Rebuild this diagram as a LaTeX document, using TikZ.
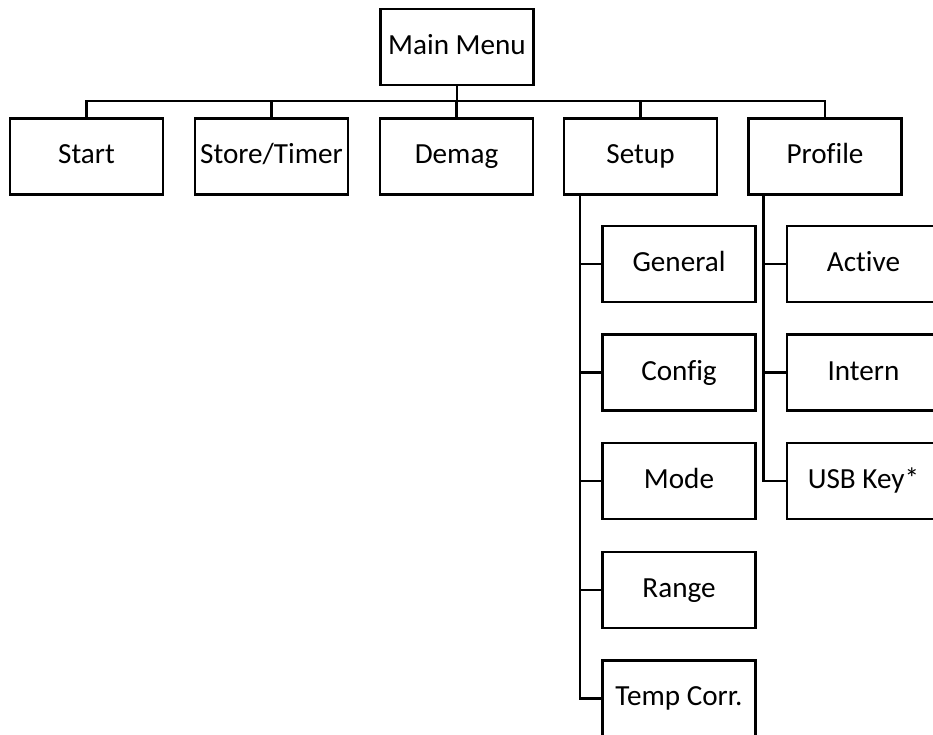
\documentclass[tikz,border=0pt]{standalone}
\usepackage{fontspec}
\setmainfont{Carlito}[Ligatures=NoCommon]
\begin{document}
\begin{tikzpicture}[x=0.02cm,y=-0.02cm,
  menu/.style={draw,line width=1.4pt,minimum width=3.06cm,minimum height=1.52cm,
    inner sep=0pt,text height=12pt,text depth=3.5pt,font=\fontsize{16.6}{20}\selectfont},
  link/.style={line width=1.4pt}]
\useasboundingbox (0,0) rectangle (933,734);
\clip (0,0) rectangle (933,734);
\def\dy{108.6} % distance between sub menus
% top level
\node[menu] (main) at (457,47) {Main Menu};
\node[menu] (start) at (86.5,156.5) {Start};
\node[menu] (store) at (271.5,156.5) {Store/Timer};
\node[menu] (demag) at (456.5,156.5) {Demag};
\node[menu] (setup) at (640.5,156.5) {Setup};
\node[menu] (profile) at (825,156.5) {Profile};
\coordinate (bus) at (457,101);
\draw[link] (main) -- (bus);
\foreach \n in {start,store,demag,setup,profile}
  \draw[link] (\n.north) |- (bus);
% setup sub menu
\foreach \n/\t [count=\i] in {general/General,config/Config,mode/Mode,range/Range,temp/Temp Corr.}
  \node[menu] (\n) at (679,{264+\dy*(\i-1)}) {\t};
\coordinate (sbar) at ([xshift=0.34cm]setup.south west);
\foreach \n in {general,config,mode,range,temp}
  \draw[link] (sbar) |- (\n.west);
% profile sub menu
\foreach \n/\t [count=\i] in {active/Active,intern/Intern,usb/USB Key*}
  \node[menu] (\n) at (863.5,{264+\dy*(\i-1)}) {\t};
\coordinate (pbar) at ([xshift=0.32cm]profile.south west);
\foreach \n in {active,intern,usb}
  \draw[link] (pbar) |- (\n.west);
\end{tikzpicture}
\end{document}
